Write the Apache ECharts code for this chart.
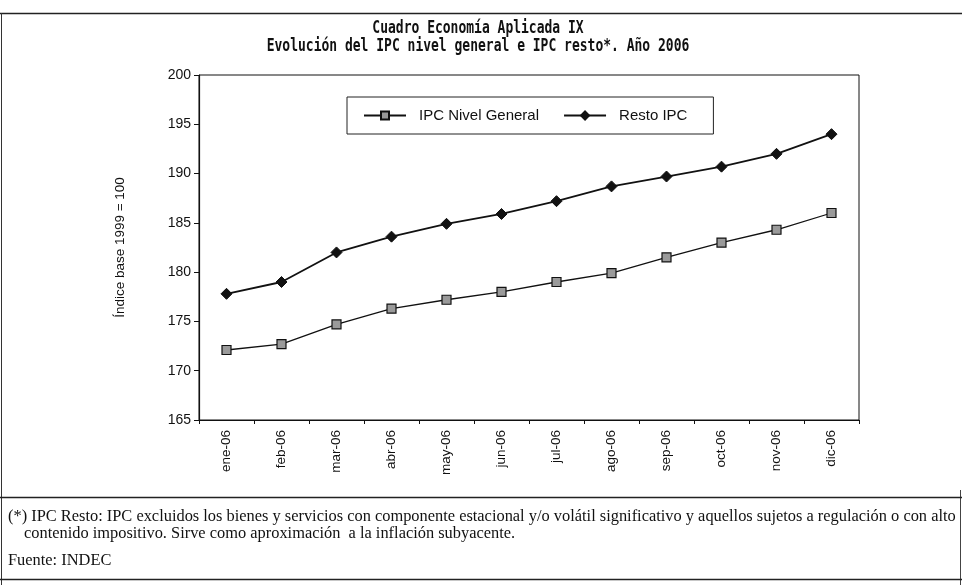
<!DOCTYPE html>
<html>
<head>
<meta charset="utf-8">
<script src="https://cdn.jsdelivr.net/npm/echarts@6/dist/echarts.min.js"></script>
<style>
  html, body { margin: 0; padding: 0; background: #fff; }
  #chart { width: 962px; height: 585px; }
</style>
</head>
<body>
<div id="chart"></div>
<script>
// Months of 2006
const months = ['ene-06', 'feb-06', 'mar-06', 'abr-06', 'may-06', 'jun-06',
                'jul-06', 'ago-06', 'sep-06', 'oct-06', 'nov-06', 'dic-06'];

// CPI, general level (base 1999 = 100)
const ipcGeneral = [172.1, 172.7, 174.7, 176.3, 177.2, 178.0,
                    179.0, 179.9, 181.5, 183.0, 184.3, 186.0];

// CPI excluding seasonal / volatile / regulated items
const restoIpc = [177.8, 179.0, 182.0, 183.6, 184.9, 185.9,
                  187.2, 188.7, 189.7, 190.7, 192.0, 194.0];

const yMin = 165, yMax = 200, yStep = 5;

const titleLines = ['Cuadro Economía Aplicada IX',
                    'Evolución del IPC nivel general e IPC resto*. Año 2006'];

const noteLines = [
  '(*) IPC Resto: IPC excluidos los bienes y servicios con componente estacional y/o volátil significativo y aquellos sujetos a regulación o con alto',
  'contenido impositivo. Sirve como aproximación  a la inflación subyacente.',
  'Fuente: INDEC'
];

const chart = echarts.init(document.getElementById('chart'), null, { renderer: 'canvas' });

const serif = '"Liberation Serif", "DejaVu Serif", serif';
const sans = '"Liberation Sans", Arial, sans-serif';
const titleFont = 'bold 13px "DejaVu Sans Mono", monospace';
const noteFont = '16.4px ' + serif;

chart.setOption({
  animation: false,
  backgroundColor: '#fff',
  legend: {
    top: 97,
    left: 347,
    data: ['IPC Nivel General', 'Resto IPC'],
    borderColor: '#222',
    borderWidth: 1,
    padding: [11, 26, 11, 16],
    itemWidth: 42,
    itemHeight: 10,
    itemGap: 24,
    textStyle: { fontFamily: sans, fontSize: 15, color: '#111', padding: [0, 0, 0, 8] }
  },
  grid: {
    left: 199, right: 103, top: 75, bottom: 165,
    show: true, borderColor: '#111', borderWidth: 1,
    containLabel: false
  },
  xAxis: {
    type: 'category',
    data: months,
    boundaryGap: true,
    axisLine: { lineStyle: { color: '#111', width: 1.2 } },
    axisTick: { show: true, interval: 0, length: 4, lineStyle: { color: '#111' } },
    axisLabel: {
      rotate: 90, interval: 0, margin: 10,
      fontFamily: sans, fontSize: 13.5, color: '#111'
    }
  },
  yAxis: {
    type: 'value',
    min: yMin, max: yMax, interval: yStep,
    name: 'Índice base 1999 = 100',
    nameLocation: 'middle',
    nameGap: 72,
    nameRotate: 90,
    nameTextStyle: { fontFamily: sans, fontSize: 13.5, color: '#111' },
    axisLine: { show: true, lineStyle: { color: '#111', width: 1.2 } },
    axisTick: { show: true, length: 5, lineStyle: { color: '#111' } },
    splitLine: { show: false },
    axisLabel: { fontFamily: sans, fontSize: 14, color: '#111', margin: 8 }
  },
  series: [
    {
      name: 'IPC Nivel General',
      type: 'line',
      data: ipcGeneral,
      symbol: 'rect',
      symbolSize: 9,
      lineStyle: { color: '#111', width: 1.3 },
      itemStyle: { color: '#9a9a9a', borderColor: '#111', borderWidth: 1.2 }
    },
    {
      name: 'Resto IPC',
      type: 'line',
      data: restoIpc,
      symbol: 'diamond',
      symbolSize: 11,
      lineStyle: { color: '#111', width: 1.8 },
      itemStyle: { color: '#111', borderColor: '#111', borderWidth: 1 }
    }
  ],
  graphic: [
    // page frame
    { type: 'line', shape: { x1: 0, y1: 13.5, x2: 962, y2: 13.5 }, style: { stroke: '#222', lineWidth: 1.5 } },
    { type: 'line', shape: { x1: 1.5, y1: 13, x2: 1.5, y2: 585 }, style: { stroke: '#333', lineWidth: 1 } },
    { type: 'line', shape: { x1: 960.5, y1: 490, x2: 960.5, y2: 585 }, style: { stroke: '#444', lineWidth: 1 } },
    { type: 'line', shape: { x1: 0, y1: 497.5, x2: 962, y2: 497.5 }, style: { stroke: '#222', lineWidth: 1.3 } },
    { type: 'line', shape: { x1: 0, y1: 579.5, x2: 962, y2: 579.5 }, style: { stroke: '#222', lineWidth: 1.3 } },
    // heading, two centred lines in a tall monospaced face
    { type: 'text', x: 478, y: 29, scaleY: 1.3,
      style: { text: titleLines[0], font: titleFont, fill: '#111', align: 'center', verticalAlign: 'middle' } },
    { type: 'text', x: 478, y: 47, scaleY: 1.3,
      style: { text: titleLines[1], font: titleFont, fill: '#111', align: 'center', verticalAlign: 'middle' } },
    // footnote text
    { type: 'text', x: 8, y: 517,
      style: { text: noteLines[0], font: noteFont, fill: '#111', verticalAlign: 'middle' } },
    { type: 'text', x: 24, y: 534,
      style: { text: noteLines[1], font: noteFont, fill: '#111', verticalAlign: 'middle' } },
    { type: 'text', x: 8, y: 561,
      style: { text: noteLines[2], font: noteFont, fill: '#111', verticalAlign: 'middle' } }
  ]
});
</script>
</body>
</html>
